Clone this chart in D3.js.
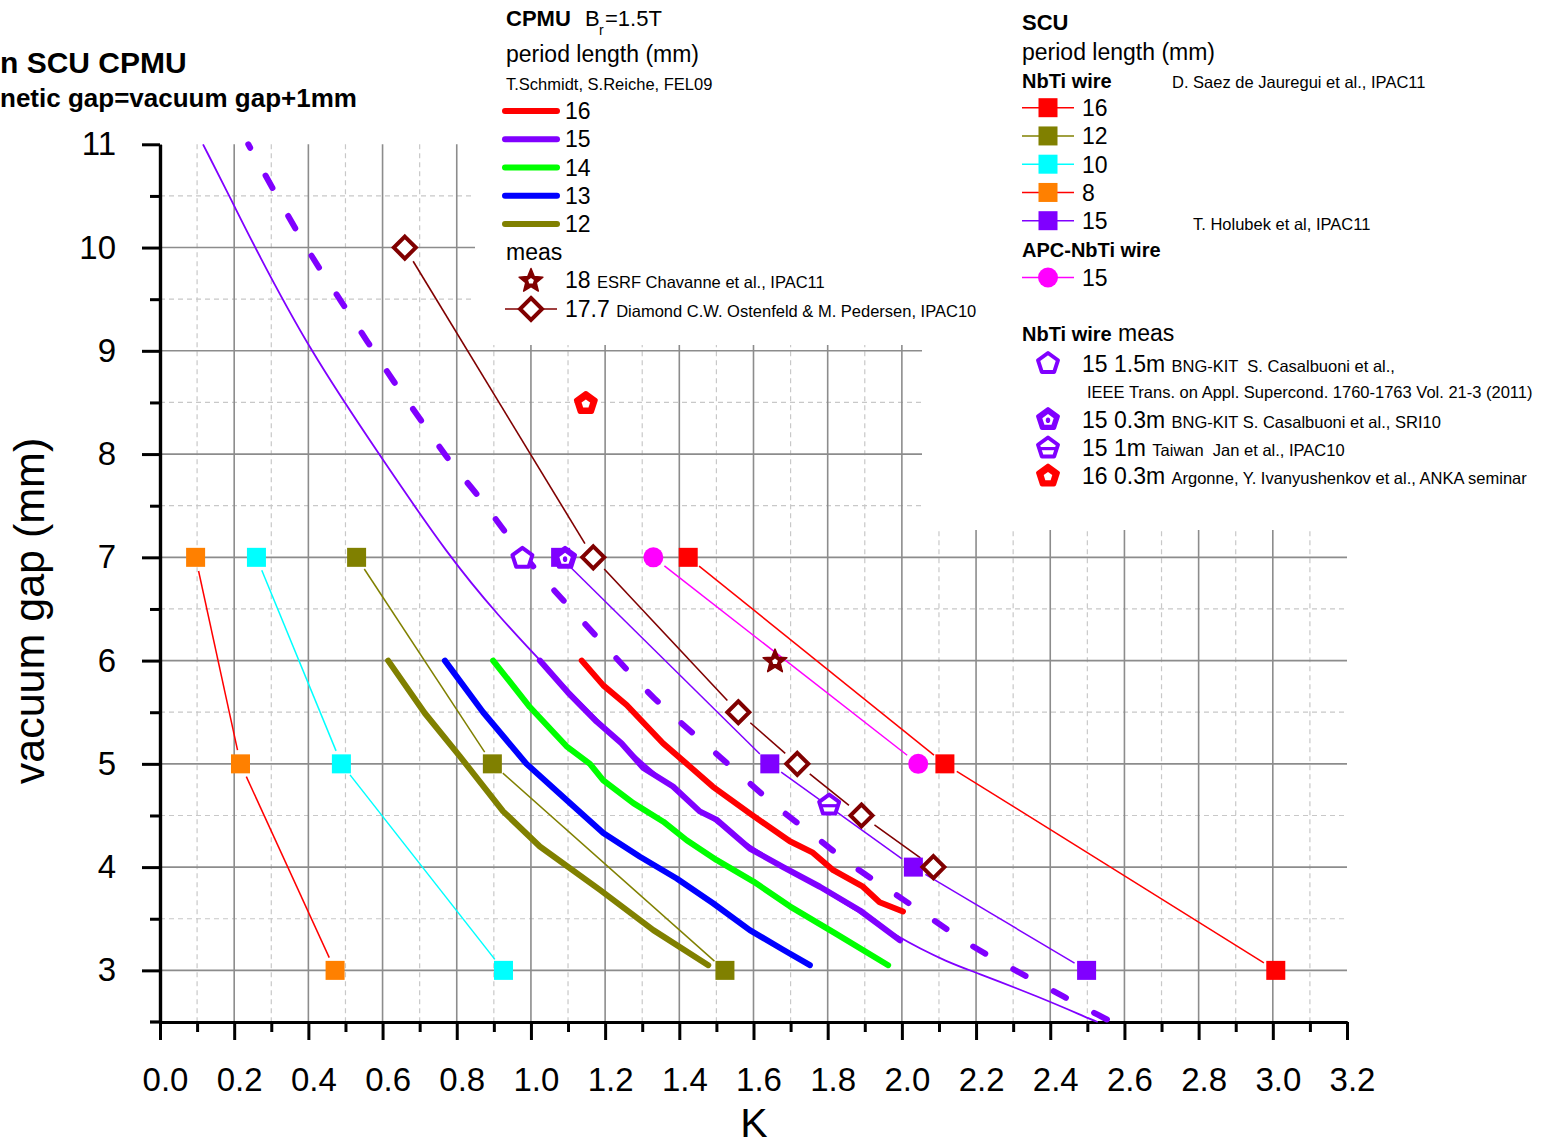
<!DOCTYPE html>
<html><head><meta charset="utf-8">
<script src="https://cdn.jsdelivr.net/npm/d3@7"></script>
<style>
html,body{margin:0;padding:0;background:#fff;}
svg{display:block;font-family:"Liberation Sans",Arial,Helvetica,sans-serif;}
</style></head>
<body>
<svg id="chart" width="1554" height="1147"></svg>
<script>
// ---------------- DATA ----------------
const xTicks = [0.0,0.2,0.4,0.6,0.8,1.0,1.2,1.4,1.6,1.8,2.0,2.2,2.4,2.6,2.8,3.0,3.2];
const xTickLabels = ["0.0","0.2","0.4","0.6","0.8","1.0","1.2","1.4","1.6","1.8","2.0","2.2","2.4","2.6","2.8","3.0","3.2"];
const yTicks = [3,4,5,6,7,8,9,10,11];
const yTickLabels = ["3","4","5","6","7","8","9","10","11"];

// CPMU Br=1.5T (T.Schmidt, S.Reiche) thick curves
const cpmu16K = [1.137,1.195,1.258,1.356,1.42,1.49,1.59,1.698,1.76,1.815,1.895,1.94,2.003];
const cpmu16G = [6.0,5.76,5.57,5.2,5.0,4.78,4.52,4.25,4.14,3.97,3.81,3.66,3.57];
const cpmu15K = [1.024,1.1,1.177,1.244,1.303,1.383,1.455,1.5,1.59,1.68,1.779,1.887,1.995];
const cpmu15G = [6.0,5.69,5.41,5.2,4.96,4.78,4.54,4.46,4.18,4.0,3.81,3.58,3.29];
const cpmu14K = [0.898,0.997,1.096,1.159,1.195,1.276,1.357,1.42,1.5,1.6,1.698,1.815,1.963];
const cpmu14G = [6.0,5.55,5.17,5.0,4.84,4.62,4.44,4.26,4.07,3.86,3.62,3.37,3.05];
const cpmu13K = [0.768,0.871,0.988,1.096,1.195,1.294,1.393,1.491,1.59,1.68,1.752];
const cpmu13G = [6.0,5.5,5.0,4.65,4.33,4.1,3.89,3.65,3.39,3.2,3.05];
const cpmu12K = [0.615,0.714,0.809,0.925,1.024,1.186,1.33,1.478];
const cpmu12G = [6.0,5.49,5.07,4.54,4.2,3.78,3.39,3.05];

// purple dashed curve and thin purple curve
const dashK = [0.238,0.395,0.49,0.559,0.629,0.703,0.78,0.863,0.945,1.038,1.132,1.231,1.334,1.442,1.55,1.658,1.761,1.869,1.977,2.084,2.188,2.296,2.403,2.507,2.566];
const dashG = [11.0,10.0,9.47,9.09,8.71,8.33,7.94,7.57,7.18,6.78,6.41,6.02,5.63,5.28,4.94,4.6,4.31,4.01,3.75,3.49,3.24,3.02,2.81,2.61,2.5];
const thinK = [0.116,0.198,0.256,0.404,0.59,0.78,0.916,1.024,1.303,1.59,1.779,1.995,2.13,2.192,2.372,2.507,2.528];
const thinG = [11.0,10.42,10.0,9.0,8.0,7.0,6.42,6.0,4.96,4.18,3.81,3.3,3.07,2.99,2.74,2.53,2.5];

// CPMU measurements
const diamondK = [0.660,1.168,1.559,1.718,1.891,2.085];
const diamondG = [10.0,7.0,5.5,5.0,4.5,4.0];
const esrfK = [1.658];
const esrfG = [6.0];

// SCU NbTi wire
const scu16K = [1.424,2.116,3.008]; const scu16G = [7,5,3];
const scu12K = [0.530,0.896,1.523]; const scu12G = [7,5,3];
const scu10K = [0.260,0.489,0.926]; const scu10G = [7,5,3];
const scu8K  = [0.096,0.217,0.472]; const scu8G  = [7,5,3];
const scu15K = [1.08,1.644,2.031,2.498]; const scu15G = [7,5,4,3];
// APC-NbTi wire
const apc15K = [1.33,2.044]; const apc15G = [7,5];
// NbTi wire measurements
const kit15mK = [0.977]; const kit15mG = [7.0];
const kit03mK = [1.092]; const kit03mG = [7.0];
const taiwanK = [1.804]; const taiwanG = [4.61];
const argonneK = [1.148]; const argonneG = [8.5];

// ---------------- DRAW ----------------
const svg = d3.select("#chart");
const x = d3.scaleLinear().domain([0,3.2]).range([160,1347]);
const y = d3.scaleLinear().domain([2.5,11]).range([1022,144.3]);
const zip = (a,b) => a.map((v,i)=>[v,b[i]]);
const line = d3.line().x(d=>x(d[0])).y(d=>y(d[1]));
const smooth = d3.line().x(d=>x(d[0])).y(d=>y(d[1])).curve(d3.curveCatmullRom.alpha(0.5));
const basis = d3.line().x(d=>x(d[0])).y(d=>y(d[1])).curve(d3.curveBasis);

const C = {red:"#ff0000",purple:"#8000ff",green:"#00ff00",blue:"#0000ff",olive:"#808000",
  dred:"#800000",mag:"#ff00ff",cyan:"#00ffff",orange:"#ff8000"};

// grid
const grid = svg.append("g");
const xMinor = d3.range(1,32,2).map(v=>v/10);
const xMajor = d3.range(2,31,2).map(v=>v/10);
const yMinor = d3.range(3.5,11,1);
const yMajor = d3.range(3,11,1);
grid.selectAll(".vmin").data(xMinor).join("line")
  .attr("x1",d=>x(d)).attr("x2",d=>x(d)).attr("y1",y(11)).attr("y2",y(2.5))
  .attr("stroke","#c8c8c8").attr("stroke-width",1.2).attr("stroke-dasharray","5 4");
grid.selectAll(".hmin").data(yMinor).join("line")
  .attr("x1",x(0)).attr("x2",x(3.2)).attr("y1",d=>y(d)).attr("y2",d=>y(d))
  .attr("stroke","#c8c8c8").attr("stroke-width",1.2).attr("stroke-dasharray","5 4");
grid.selectAll(".vmaj").data(xMajor).join("line")
  .attr("x1",d=>x(d)).attr("x2",d=>x(d)).attr("y1",y(11)).attr("y2",y(2.5))
  .attr("stroke","#8c8c8c").attr("stroke-width",1.6);
grid.selectAll(".hmaj").data(yMajor).join("line")
  .attr("x1",x(0)).attr("x2",x(3.2)).attr("y1",d=>y(d)).attr("y2",d=>y(d))
  .attr("stroke","#8c8c8c").attr("stroke-width",1.6);

// legend backgrounds covering grid
svg.append("rect").attr("x",475).attr("y",0).attr("width",447).attr("height",345).attr("fill","#fff");
svg.append("rect").attr("x",922).attr("y",0).attr("width",632).attr("height",530).attr("fill","#fff");

// axes
const xAxis = svg.append("g").attr("transform","translate(0,1022)")
  .call(d3.axisBottom(x).tickValues(xTicks).tickFormat((d,i)=>xTickLabels[i]).tickSize(18).tickSizeOuter(0));
const xAxisMinor = svg.append("g").attr("transform","translate(0,1022)")
  .call(d3.axisBottom(x).tickValues(xMinor).tickFormat("").tickSize(10).tickSizeOuter(0));
const yAxis = svg.append("g").attr("transform","translate(160,0)")
  .call(d3.axisLeft(y).tickValues(yTicks).tickFormat((d,i)=>yTickLabels[i]).tickSize(18).tickSizeOuter(0).tickPadding(26));
const yAxisMinor = svg.append("g").attr("transform","translate(160,0)")
  .call(d3.axisLeft(y).tickValues(yMinor).tickFormat("").tickSize(10).tickSizeOuter(0));
[xAxis,xAxisMinor,yAxis,yAxisMinor].forEach(g=>{
  g.selectAll("path.domain").attr("stroke","#000").attr("stroke-width",3.2);
  g.selectAll(".tick line").attr("stroke","#000").attr("stroke-width",3);
  g.selectAll("text").attr("fill","#000").attr("font-size",33).attr("font-family","Liberation Sans, Arial, sans-serif");
});
xAxis.selectAll("text").attr("y",69).attr("dy",null).attr("dx",5);
svg.append("line").attr("x1",150).attr("x2",160).attr("y1",1022).attr("y2",1022).attr("stroke","#000").attr("stroke-width",3.2);

svg.append("text").attr("x",754).attr("y",1137).attr("text-anchor","middle").attr("font-size",41).text("K");
svg.append("text").attr("transform","translate(44,611) rotate(-90)").attr("text-anchor","middle").attr("font-size",43).text("vacuum gap (mm)");

// titles top-left
svg.append("text").attr("x",0).attr("y",73).attr("font-size",30).attr("font-weight","bold").text("n SCU CPMU");
svg.append("text").attr("x",0).attr("y",107).attr("font-size",26).attr("font-weight","bold").text("netic gap=vacuum gap+1mm");

// ---- data lines ----
const plot = svg.append("g");
// thin purple curve
plot.append("path").attr("d",basis(zip(thinK,thinG))).attr("fill","none").attr("stroke",C.purple).attr("stroke-width",1.8);
// dashed purple curve
plot.append("path").attr("d",smooth(zip(dashK,dashG))).attr("fill","none").attr("stroke",C.purple)
  .attr("stroke-width",6).attr("stroke-dasharray","14 32").attr("stroke-dashoffset",10).attr("stroke-linecap","round");
// thick CPMU lines
[[cpmu12K,cpmu12G,C.olive],[cpmu13K,cpmu13G,C.blue],[cpmu14K,cpmu14G,C.green],[cpmu15K,cpmu15G,C.purple],[cpmu16K,cpmu16G,C.red]]
.forEach(([k,g,c])=>{
  plot.append("path").attr("d",line(zip(k,g))).attr("fill","none").attr("stroke",c)
    .attr("stroke-width",6).attr("stroke-linecap","round").attr("stroke-linejoin","round");
});

// gapped connecting lines (Origin style)
function gapped(k,g,color,gap,w){
  const p = zip(k,g).map(d=>[x(d[0]),y(d[1])]);
  for(let i=0;i<p.length-1;i++){
    const [x1,y1]=p[i],[x2,y2]=p[i+1];
    const L=Math.hypot(x2-x1,y2-y1), ux=(x2-x1)/L, uy=(y2-y1)/L;
    plot.append("line").attr("x1",x1+ux*gap).attr("y1",y1+uy*gap).attr("x2",x2-ux*gap).attr("y2",y2-uy*gap)
      .attr("stroke",color).attr("stroke-width",w);
  }
}
gapped(diamondK,diamondG,C.dred,16,1.6);
gapped(scu16K,scu16G,C.red,14,1.5);
gapped(scu12K,scu12G,C.olive,14,1.5);
gapped(scu10K,scu10G,C.cyan,14,1.5);
gapped(scu8K,scu8G,C.red,14,1.5);
gapped(scu15K,scu15G,C.purple,14,1.5);
gapped(apc15K,apc15G,C.mag,14,1.5);

// ---- marker helpers ----
function polyPts(cx,cy,r,n,rot){return d3.range(n).map(k=>{const a=rot+k*2*Math.PI/n;return [cx+r*Math.cos(a),cy+r*Math.sin(a)];});}
function pathOf(pts){return "M"+pts.map(p=>p.join(",")).join("L")+"Z";}
function square(g,cx,cy,color){g.append("rect").attr("x",cx-9.5).attr("y",cy-9.5).attr("width",19).attr("height",19).attr("fill",color);}
function circle(g,cx,cy,color){g.append("circle").attr("cx",cx).attr("cy",cy).attr("r",10).attr("fill",color);}
function diamond(g,cx,cy){g.append("path").attr("d",pathOf(polyPts(cx,cy,11,4,-Math.PI/2))).attr("fill","#fff").attr("stroke",C.dred).attr("stroke-width",4).attr("stroke-linejoin","miter");}
function star(g,cx,cy){
  const pts=d3.range(10).map(k=>{const a=-Math.PI/2+k*Math.PI/5,r=k%2?5.5:12.5;return [cx+r*Math.cos(a),cy+1+r*Math.sin(a)];});
  g.append("path").attr("d",pathOf(pts)).attr("fill",C.dred).attr("stroke",C.dred).attr("stroke-width",1.5).attr("stroke-linejoin","round");
  g.append("path").attr("d",pathOf(polyPts(cx,cy+1,3,5,-Math.PI/2))).attr("fill","#fff");
}
function pent(g,cx,cy,type){
  const P=pathOf(polyPts(cx,cy+1,10.5,5,-Math.PI/2));
  if(type==="open"){
    g.append("path").attr("d",P).attr("fill","#fff").attr("stroke",C.purple).attr("stroke-width",4).attr("stroke-linejoin","round");
  } else if(type==="dot"){
    g.append("path").attr("d",P).attr("fill",C.purple).attr("stroke",C.purple).attr("stroke-width",4).attr("stroke-linejoin","round");
    g.append("path").attr("d",pathOf(polyPts(cx,cy+1.5,6,5,-Math.PI/2))).attr("fill","#fff");
    g.append("ellipse").attr("cx",cx).attr("cy",cy+1.8).attr("rx",2.2).attr("ry",2.8).attr("fill",C.purple);
  } else if(type==="bar"){
    g.append("path").attr("d",P).attr("fill","#fff").attr("stroke",C.purple).attr("stroke-width",4).attr("stroke-linejoin","round");
    g.append("rect").attr("x",cx-8).attr("y",cy).attr("width",16).attr("height",3.2).attr("fill",C.purple);
  } else if(type==="red"){
    g.append("path").attr("d",P).attr("fill",C.red).attr("stroke",C.red).attr("stroke-width",4).attr("stroke-linejoin","round");
    g.append("path").attr("d",pathOf(polyPts(cx,cy+1.5,4.5,5,-Math.PI/2))).attr("fill","#fff");
  }
}

// ---- markers ----
const mk = svg.append("g");
[[scu8K,scu8G,C.orange],[scu10K,scu10G,C.cyan],[scu12K,scu12G,C.olive],[scu16K,scu16G,C.red],[scu15K,scu15G,C.purple]]
.forEach(([k,g,c])=>zip(k,g).forEach(d=>square(mk,x(d[0]),y(d[1]),c)));
zip(apc15K,apc15G).forEach(d=>circle(mk,x(d[0]),y(d[1]),C.mag));
zip(diamondK,diamondG).forEach(d=>diamond(mk,x(d[0]),y(d[1])));
zip(esrfK,esrfG).forEach(d=>star(mk,x(d[0]),y(d[1])));
zip(kit15mK,kit15mG).forEach(d=>pent(mk,x(d[0]),y(d[1]),"open"));
zip(kit03mK,kit03mG).forEach(d=>pent(mk,x(d[0]),y(d[1]),"dot"));
zip(taiwanK,taiwanG).forEach(d=>pent(mk,x(d[0]),y(d[1]),"bar"));
zip(argonneK,argonneG).forEach(d=>pent(mk,x(d[0]),y(d[1]),"red"));

// ---- CPMU legend ----
const lg = svg.append("g");
const t1 = lg.append("text").attr("x",506).attr("y",26).attr("font-size",22);
t1.append("tspan").attr("font-weight","bold").text("CPMU");
t1.append("tspan").attr("x",585).text("B");
t1.append("tspan").attr("x",599).attr("dy",9).attr("font-size",14).text("r");
t1.append("tspan").attr("x",605).attr("dy",-9).text("=1.5T");
lg.append("text").attr("x",506).attr("y",62).attr("font-size",23).text("period length (mm)");
lg.append("text").attr("x",506).attr("y",90).attr("font-size",16.5).text("T.Schmidt, S.Reiche, FEL09");
const cpmuLeg = [["16",C.red],["15",C.purple],["14",C.green],["13",C.blue],["12",C.olive]];
cpmuLeg.forEach(([lab,c],i)=>{
  const yy = 111 + i*28.25;
  lg.append("line").attr("x1",505).attr("x2",557).attr("y1",yy).attr("y2",yy).attr("stroke",c).attr("stroke-width",6).attr("stroke-linecap","round");
  lg.append("text").attr("x",565).attr("y",yy+8).attr("font-size",23).text(lab);
});
lg.append("text").attr("x",506).attr("y",260).attr("font-size",23).text("meas");
star(lg,531,280);
const t2 = lg.append("text").attr("x",565).attr("y",288).attr("font-size",23);
t2.append("tspan").text("18 ");
t2.append("tspan").attr("font-size",16.5).text("ESRF Chavanne et al., IPAC11");
lg.append("line").attr("x1",505).attr("x2",557).attr("y1",309).attr("y2",309).attr("stroke",C.dred).attr("stroke-width",1.6);
diamond(lg,531,309);
const t3 = lg.append("text").attr("x",565).attr("y",317).attr("font-size",23);
t3.append("tspan").text("17.7 ");
t3.append("tspan").attr("font-size",16.5).text("Diamond C.W. Ostenfeld & M. Pedersen, IPAC10");

// ---- SCU legend ----
lg.append("text").attr("x",1022).attr("y",30).attr("font-size",22).attr("font-weight","bold").text("SCU");
lg.append("text").attr("x",1022).attr("y",60).attr("font-size",23).text("period length (mm)");
lg.append("text").attr("x",1022).attr("y",88).attr("font-size",20).attr("font-weight","bold").text("NbTi wire");
lg.append("text").attr("x",1172).attr("y",88).attr("font-size",16.5).text("D. Saez de Jauregui et al., IPAC11");
const scuLeg = [["16",C.red,C.red],["12",C.olive,C.olive],["10",C.cyan,C.cyan],["8",C.red,C.orange],["15",C.purple,C.purple]];
scuLeg.forEach(([lab,lc,mc],i)=>{
  const yy = 107.7 + i*28.25;
  lg.append("line").attr("x1",1022).attr("x2",1074).attr("y1",yy).attr("y2",yy).attr("stroke",lc).attr("stroke-width",1.5);
  square(lg,1048,yy,mc);
  lg.append("text").attr("x",1082).attr("y",yy+8.5).attr("font-size",23).text(lab);
});
lg.append("text").attr("x",1193).attr("y",230).attr("font-size",16.5).text("T. Holubek et al, IPAC11");
lg.append("text").attr("x",1022).attr("y",257).attr("font-size",20).attr("font-weight","bold").text("APC-NbTi wire");
lg.append("line").attr("x1",1022).attr("x2",1074).attr("y1",277.5).attr("y2",277.5).attr("stroke",C.mag).attr("stroke-width",1.5);
circle(lg,1048,277.5,C.mag);
lg.append("text").attr("x",1082).attr("y",286).attr("font-size",23).text("15");

// ---- NbTi wire meas legend ----
const t4 = lg.append("text").attr("x",1022).attr("y",341);
t4.append("tspan").attr("font-size",20).attr("font-weight","bold").text("NbTi wire");
t4.append("tspan").attr("font-size",23).text(" meas");
const measLeg = [
  [363.5,"open","15 1.5m","BNG-KIT  S. Casalbuoni et al.,"],
  [419.5,"dot","15 0.3m","BNG-KIT S. Casalbuoni et al., SRI10"],
  [448,"bar","15 1m","Taiwan  Jan et al., IPAC10"],
  [476,"red","16 0.3m","Argonne, Y. Ivanyushenkov et al., ANKA seminar"]
];
measLeg.forEach(([yy,type,big,small])=>{
  pent(lg,1048,yy-1,type);
  const t = lg.append("text").attr("x",1082).attr("y",yy+8).attr("font-size",23).attr("xml:space","preserve");
  t.append("tspan").text(big+" ");
  t.append("tspan").attr("font-size",16.5).text(small);
});
lg.append("text").attr("x",1087).attr("y",398).attr("font-size",16.5).text("IEEE Trans. on Appl. Supercond. 1760-1763 Vol. 21-3 (2011)");
</script>
</body></html>
